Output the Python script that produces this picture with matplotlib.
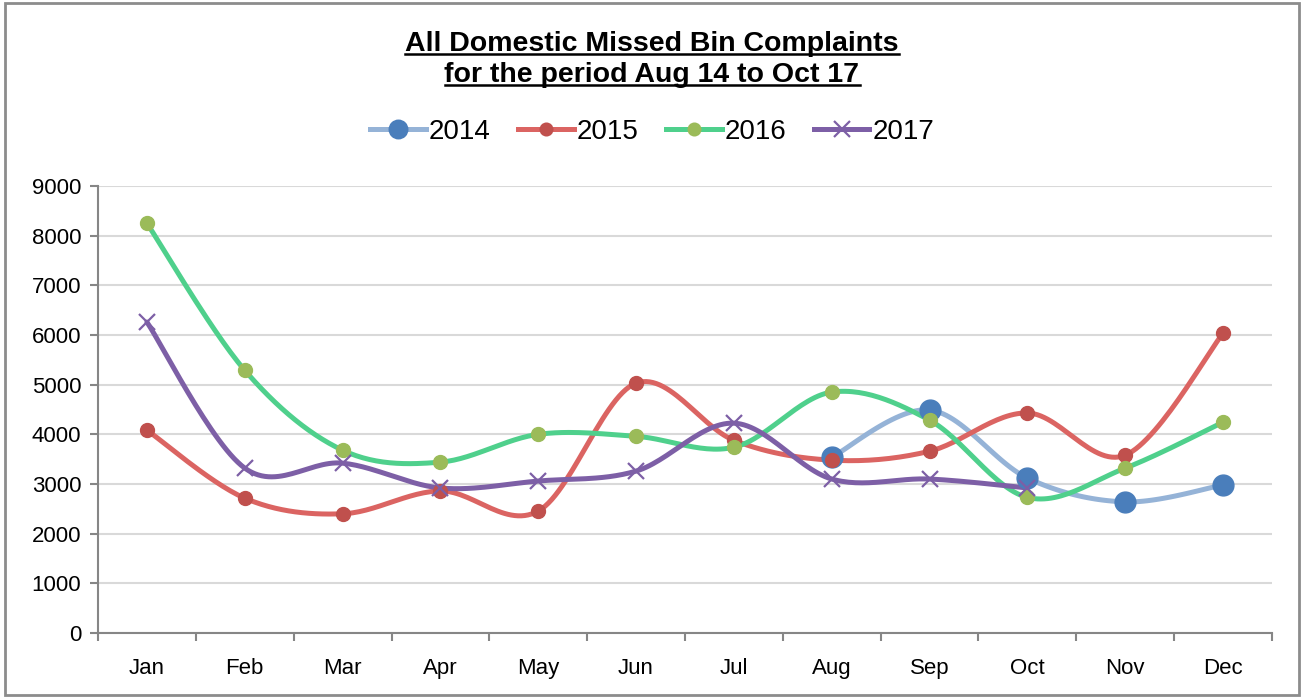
import numpy as np
import matplotlib
matplotlib.use("Agg")
import matplotlib.pyplot as plt
from matplotlib.lines import Line2D
from matplotlib.patches import Rectangle

plt.rcParams["font.family"] = ["Liberation Sans", "DejaVu Sans"]

# ── data ─────────────────────────────────────
months = ["Jan", "Feb", "Mar", "Apr", "May", "Jun",
          "Jul", "Aug", "Sep", "Oct", "Nov", "Dec"]

y2014 = [None, None, None, None, None, None, None, 3540, 4490, 3120, 2640, 2980]
y2015 = [4085, 2715, 2400, 2860, 2455, 5030, 3880, 3480, 3660, 4430, 3580, 6035]
y2016 = [8250, 5290, 3680, 3440, 4000, 3960, 3740, 4850, 4285, 2730, 3320, 4245]
y2017 = [6260, 3320, 3420, 2920, 3060, 3260, 4225, 3100, 3100, 2920, None, None]

yticks = [0, 1000, 2000, 3000, 4000, 5000, 6000, 7000, 8000, 9000]


def smooth(xs, ys, n=30):
    # Excel-style smoothed line: cubic Bezier with Catmull-Rom control points
    xs = np.asarray(xs, float)
    ys = np.asarray(ys, float)
    px, py = [], []
    for i in range(len(xs) - 1):
        p0 = (xs[max(i - 1, 0)], ys[max(i - 1, 0)])
        p1 = (xs[i], ys[i])
        p2 = (xs[i + 1], ys[i + 1])
        p3 = (xs[min(i + 2, len(xs) - 1)], ys[min(i + 2, len(ys) - 1)])
        c1 = (p1[0] + (p2[0] - p0[0]) / 6, p1[1] + (p2[1] - p0[1]) / 6)
        c2 = (p2[0] - (p3[0] - p1[0]) / 6, p2[1] - (p3[1] - p1[1]) / 6)
        t = np.linspace(0, 1, n)
        bx = ((1 - t) ** 3 * p1[0] + 3 * (1 - t) ** 2 * t * c1[0]
              + 3 * (1 - t) * t ** 2 * c2[0] + t ** 3 * p2[0])
        by = ((1 - t) ** 3 * p1[1] + 3 * (1 - t) ** 2 * t * c1[1]
              + 3 * (1 - t) * t ** 2 * c2[1] + t ** 3 * p2[1])
        px.extend(bx)
        py.extend(by)
    return px, py


series = [
    ("2014", y2014, "#95b3d7", "#4a7ebb", "o", 15),
    ("2015", y2015, "#db6462", "#c0504d", "o", 10),
    ("2016", y2016, "#4fd08c", "#9bbb59", "o", 10),
    ("2017", y2017, "#7d5fa6", "#7d5fa6", "x", 12),
]

fig = plt.figure(figsize=(13.04, 6.98), dpi=100)
ax = fig.add_axes([98 / 1304, 1 - 633 / 698, 1174 / 1304, 447 / 698])

handles = []
for label, vals, lc, mc, mk, ms in series:
    xs = [i for i, v in enumerate(vals) if v is not None]
    ys = [v for v in vals if v is not None]
    sx, sy = smooth(xs, ys)
    ax.plot(sx, sy, color=lc, lw=3.6, solid_capstyle="round", zorder=2)
    if mk == "x":
        ax.plot(xs, ys, ls="none", marker="x", ms=ms, mew=1.6, color=mc, zorder=3)
    else:
        ax.plot(xs, ys, ls="none", marker="o", ms=ms, mec=mc, mfc=mc, zorder=3)
    handles.append(Line2D([0], [0], color=lc, lw=3.6, marker=mk, ms=ms if mk == "x" else ms * 0.85,
                          mfc=mc, mec=mc, mew=1.6))

ax.set_xlim(-0.5, 11.5)
ax.set_ylim(0, 9000)
ax.set_yticks(yticks)
ax.set_yticklabels([str(v) for v in yticks], fontsize=16)
ax.set_xticks(range(12))
ax.set_xticklabels(months, fontsize=16)
ax.tick_params(axis="x", length=0, pad=18)
ax.set_xticks(np.arange(-0.5, 12, 1), minor=True)
ax.tick_params(axis="x", which="minor", length=6, color="#868686", width=1.5)
ax.tick_params(axis="y", length=6, color="#868686", width=1.5, pad=6)
ax.grid(axis="y", color="#d9d9d9", lw=1.5)
ax.set_axisbelow(True)
for s in ["top", "right"]:
    ax.spines[s].set_visible(False)
for s in ["left", "bottom"]:
    ax.spines[s].set_color("#868686")
    ax.spines[s].set_linewidth(1.5)

# legend
fig.legend(handles, ["2014", "2015", "2016", "2017"], loc="center",
           bbox_to_anchor=(0.5, 1 - 132 / 698), ncol=4, frameon=False,
           fontsize=20, handlelength=2.0, handletextpad=0.1, columnspacing=1.0)

# title with underline
t1 = fig.text(0.5, 1 - 44 / 698, "All Domestic Missed Bin Complaints",
              ha="center", va="center", fontsize=20.5, fontweight="bold")
t2 = fig.text(0.5, 1 - 75 / 698, "for the period Aug 14 to Oct 17",
              ha="center", va="center", fontsize=20.5, fontweight="bold")
renderer = fig.canvas.get_renderer()
for t in (t1, t2):
    bb = t.get_window_extent(renderer).transformed(fig.transFigure.inverted())
    yl = bb.y0 + 0.004
    fig.add_artist(Line2D([bb.x0, bb.x1], [yl, yl], color="black", lw=1.8,
                          transform=fig.transFigure))

# outer border
fig.add_artist(Rectangle((0.004, 0.004), 0.992, 0.992, transform=fig.transFigure,
                         fill=False, edgecolor="#8c8c8c", lw=2))

fig.savefig("out.png", dpi=100)
